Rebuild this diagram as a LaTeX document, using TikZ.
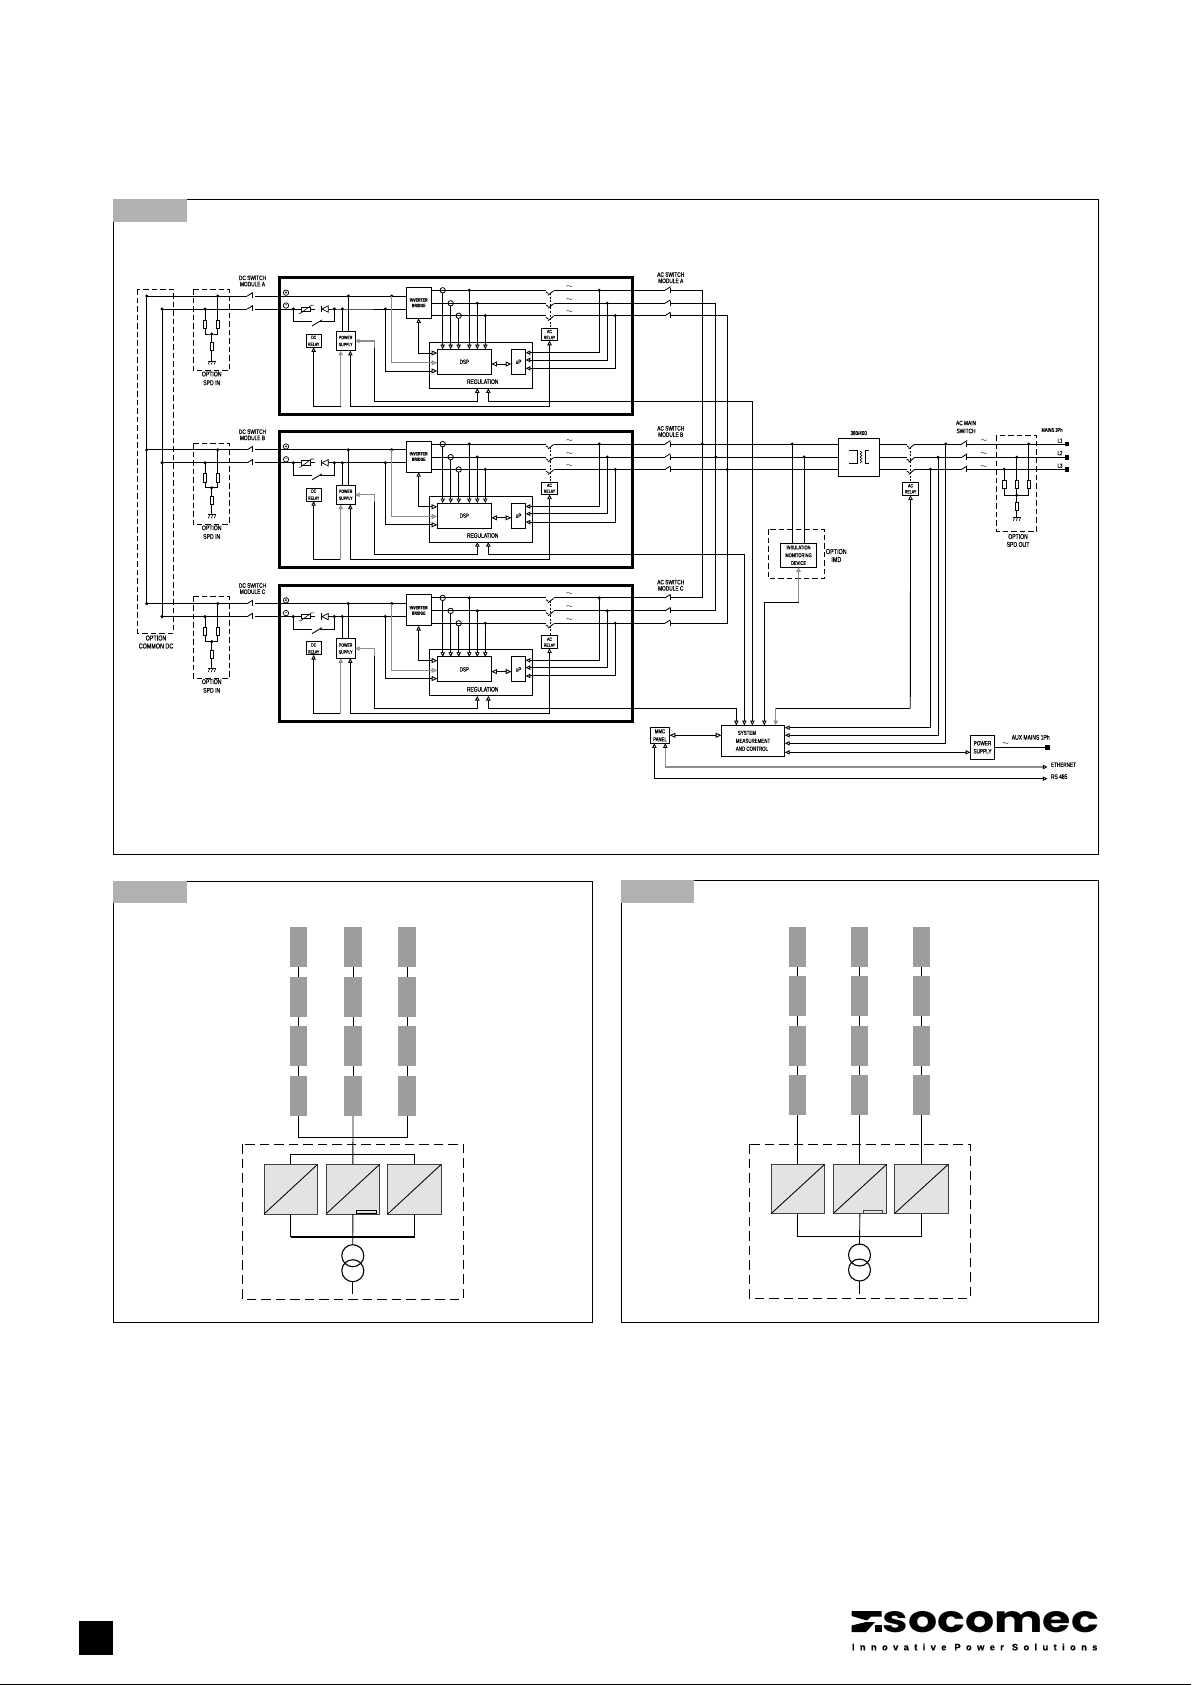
\documentclass[tikz,border=0pt]{standalone}
\usepackage{fontspec}
\usepackage{graphicx}
\setmainfont[FakeStretch=0.75,FakeBold=0.5]{Liberation Sans}
\newfontfamily\logofont{Poppins}
\newfontfamily\tagfont[LetterSpace=58,BoldFeatures={FakeBold=0.5}]{Liberation Sans}
\usetikzlibrary{arrows.meta}
\definecolor{tabgray}{HTML}{B1B1AF}
\definecolor{pvgray}{HTML}{9D9D9D}
\definecolor{convgray}{HTML}{E3E3E1}
\definecolor{softwire}{HTML}{8E8E8E}
\tikzset{
  tri/.tip={Triangle[open,length=4.6pt,width=4.4pt]},
  trib/.tip={Triangle[open,length=5.6pt,width=5pt]},
  wire/.style={line width=.85pt},
  softw/.style={line width=1.1pt,color=softwire},
  boxy/.style={draw,rectangle,line width=.9pt,inner sep=0pt,outer sep=0pt,align=center,font=\fontsize{4.7}{7}\selectfont},
  thickbx/.style={line width=3pt},
  lbl/.style 2 args={inner sep=0pt,align=center,font=\fontsize{#1}{#2}\selectfont},
  sym/.style={inner sep=0pt,font=\fontsize{#1}{#1}\selectfont},
  polar/.style={draw,circle,line width=.7pt,minimum size=5.4pt,inner sep=0pt,outer sep=0pt,font=\fontsize{5.5}{5.5}\selectfont},
  dcoarse/.style={line width=.9pt,dash pattern=on 5.5pt off 3pt},
  dfine/.style={line width=.9pt,dash pattern=on 9.5pt off 5pt},
  resbox/.style={boxy},
  tabbx/.style={draw=none,fill=tabgray},
  frame/.style={draw,rectangle,line width=.9pt,inner sep=0pt,outer sep=0pt},
  panel/.style={draw=none,fill=pvgray},
  conv/.style={draw=black!75,fill=convgray,line width=.9pt},
}
\newcommand\bx[7][]{\node[boxy,#1,minimum width={(#5-#3)*1pt},minimum height={(#6-#4)*1pt}] (#2) at ({(#3+#5)/2},{(#4+#6)/2}) {#7};}
\newcommand\jdot[3]{\coordinate (#1) at (#2,#3); \fill (#1) circle[radius=1.7pt];}
\newcommand\ctc[2]{\draw[wire] ({#1},{#2+1.7}) -- ({#1+2.3},{#2+3.3}); \draw[wire] ({#1+2},{#2+5}) -- ({#1+7.5},{#2+.5});}
\newcommand\swi[2]{\draw[wire] ({#1},{#2}) -- ({#1+5.5},{#2-3.5}); \draw[wire] ({#1+5},{#2-2.5}) -- ({#1+5},{#2+2.5});}
\newcommand\gndsym[2]{\draw[wire] ({#1-3.5},{#2}) -- ({#1+4},{#2}); \foreach \i in {-3,0,3} {\draw[line width=.6pt] ({#1+\i+1},{#2}) -- ({#1+\i-.5},{#2+3.5});}}
\newcommand\modblock[3]{%
\begin{scope}[shift={(0,#1)}]
  \bx[thickbx]{#2-mod}{279.3}{277.5}{632.7}{414}{}
  \node[polar] (#2-plus) at (286,292.7) {+};
  \node[polar] (#2-minus) at (286,305.5) {\raisebox{.4pt}{-}};
  % DC entry
  \jdot{#2-bp}{146.7}{296}
  \jdot{#2-bm}{162}{309}
  \jdot{#2-sp}{217.7}{296}
  \jdot{#2-sm}{205}{309}
  \draw[dcoarse] (193.3,289.3) rectangle (229.3,370.7);
  \bx[resbox]{#2-r1}{203.3}{320}{206.7}{328.3}{}
  \bx[resbox]{#2-r2}{216}{320}{219.4}{328.3}{}
  \bx[resbox]{#2-r3}{210}{342.7}{213.4}{350.7}{}
  \jdot{#2-sj}{211.7}{334}
  \draw[wire] (#2-sm) -- (#2-r1.north);
  \draw[wire] (#2-sp) -- (#2-r2.north);
  \draw[wire] (#2-r1.south) |- (#2-sj) -| (#2-r2.south);
  \draw[wire] (#2-sj) -- (#2-r3.north);
  \coordinate (#2-g) at (211.7,361);
  \draw[wire] (#2-r3.south) -- (#2-g);
  \gndsym{211.7}{361}
  \node[lbl={6.8}{8.7}] (#2-spdl) at (211.7,378.4) {OPTION\\SPD IN};
  \node[lbl={6.4}{6.2}] (#2-dcsw) at (252.5,281) {DC SWITCH\\MODULE #2};
  \draw[wire] (#2-bp) -- (247.3,296);
  \swi{247.3}{296}
  \draw[wire] (#2-bm) -- (247.3,309);
  \swi{247.3}{309}
  % module blocks
  \bx{#2-inv}{406}{287.3}{431.3}{318.3}{\bfseries INVERTER\\[-1.5pt]\bfseries BRIDGE}
  \bx{#2-dcr}{306}{334.3}{321.3}{347.3}{DC\\RELAY}
  \bx{#2-ps}{336.3}{331.3}{355}{350.7}{POWER\\SUPPLY}
  \bx{#2-acr}{541.7}{328.3}{557.3}{340.7}{AC\\[-1pt]RELAY}
  \bx{#2-reg}{429.3}{342.3}{532.3}{388.3}{}
  \bx[font=\fontsize{6}{7}\selectfont]{#2-dsp}{437.3}{349.3}{491.3}{374.3}{DSP}
  \bx[font=\fontsize{6}{7}\selectfont]{#2-up}{511.3}{349.3}{525.7}{374.3}{uP}
  \node[lbl={6.5}{7}] (#2-regl) at (482.7,381.7) {REGULATION};
  % plus and minus rails
  \coordinate (#2-vp) at (255,296);
  \coordinate (#2-vm) at (255,309);
  \draw[wire] (#2-vp) -- (#2-vp -| #2-inv.west);
  \jdot{#2-p1}{348.3}{296}
  \jdot{#2-p2}{391.7}{296}
  \jdot{#2-m1}{293.3}{309}
  \jdot{#2-m2}{334.3}{309}
  \jdot{#2-m3}{342.3}{309}
  \jdot{#2-m4}{385.3}{309}
  \bx[resbox,line width=.7pt]{#2-var}{301.5}{306.9}{310.5}{311.1}{}
  \draw[wire] (#2-vm) -- (#2-var.west);
  \draw[wire] (#2-var.east) -- (315,309);
  \draw[line width=.6pt] (298.5,313.3) -- (300.5,313.3) -- (311.5,305.2) -- (314,305.2);
  \draw[wire] (321.7,305.7) -- (321.7,312.3);
  \draw[line width=.7pt] (322,309) -- (328.3,305.8) -- (328.3,312.2) -- cycle;
  \draw[wire] (328.3,309) -- (#2-m2) -- (#2-m3) -- (#2-m3 -| #2-inv.west);
  \draw[wire] (#2-m1) |- (311.7,321.7);
  \draw[wire] (#2-m2) |- (320,321.7);
  \draw[wire] (312,326) -- (322,320);
  \draw[wire] (#2-m3) -- (#2-m3 |- #2-ps.north);
  \draw[wire] (#2-p1) -- (#2-p1 |- #2-ps.north);
  % outputs
  \coordinate (#2-o1) at (431.3,290.3);
  \coordinate (#2-o2) at (431.3,303.3);
  \coordinate (#2-o3) at (431.3,315.7);
  \coordinate (#2-e1) at (670.3,290.3);
  \coordinate (#2-e2) at (670.3,303.3);
  \coordinate (#2-e3) at (670.3,315.7);
  \draw[wire] (#2-o1) -- (546,290.3);
  \draw[wire] (#2-o2) -- (546,303.3);
  \draw[wire] (#2-o3) -- (546,315.7);
  \ctc{546}{290.3}\ctc{546}{303.3}\ctc{546}{315.7}
  \draw[wire] (553.5,290.3) -- (664.8,290.3);
  \draw[wire] (553.5,303.3) -- (664.8,303.3);
  \draw[wire] (553.5,315.7) -- (664.8,315.7);
  \swi{665}{290.3}\swi{665}{303.3}\swi{665}{315.7}
  \draw[line width=.7pt,dash pattern=on 2pt off 1.6pt] (550.7,293) -- (550.7,328.3);
  \node[sym=8] (#2-t1) at (569.3,286.7) {$\sim$};
  \node[sym=8] (#2-t2) at (569.3,299.7) {$\sim$};
  \node[sym=8] (#2-t3) at (569.3,312.3) {$\sim$};
  \node[lbl={6.4}{6.2}] (#2-acsw) at (670.7,277.7) {AC SWITCH\\MODULE #2};
  % current sensors
  \foreach \n/\xx/\yy in {1/442.7/290.3,2/450.7/303.3,3/458.7/315.7} {
    \node[draw,circle,line width=.8pt,minimum size=5.4pt,inner sep=0pt,outer sep=0pt] (#2-ct\n) at (\xx,\yy) {};
    \draw[wire,-{tri}] (#2-ct\n.south) -- (#2-ct\n.south |- #2-dsp.north);
  }
  \jdot{#2-a1}{469.3}{290.3}
  \jdot{#2-a2}{477.3}{303.3}
  \jdot{#2-a3}{485.3}{315.7}
  \draw[wire,-{tri}] (#2-a1) -- (#2-a1 |- #2-dsp.north);
  \draw[wire,-{tri}] (#2-a2) -- (#2-a2 |- #2-dsp.north);
  \draw[wire,-{tri}] (#2-a3) -- (#2-a3 |- #2-dsp.north);
  % DSP inputs
  \coordinate (#2-d1) at (437.3,353);
  \coordinate (#2-d2) at (437.3,362.7);
  \coordinate (#2-d3) at (437.3,371);
  \draw[wire,{tri}-{trib}] (#2-inv.south) |- (#2-d1);
  \draw[softw,-{trib}] (#2-p2) |- (#2-d2);
  \draw[wire,-{trib}] (#2-m4) |- (#2-d3);
  % DSP - uP exchange
  \coordinate (#2-x1) at (491.3,364);
  \coordinate (#2-x2) at (511.3,364);
  \draw[wire,{trib}-{trib}] (#2-x1) -- (#2-x2);
  % uP measurements
  \jdot{#2-c1}{599.3}{290.3}
  \jdot{#2-c2}{607.3}{303.3}
  \jdot{#2-c3}{615.3}{315.7}
  \coordinate (#2-u1) at (525.7,352.7);
  \coordinate (#2-u2) at (525.7,360);
  \coordinate (#2-u3) at (525.7,368.3);
  \draw[wire,-{tri}] (#2-c1) |- (#2-u1);
  \draw[wire,-{tri}] (#2-c2) |- (#2-u2);
  \draw[wire,-{tri}] (#2-c3) |- (#2-u3);
  % control wires
  \coordinate (#2-k1) at (340.7,406);
  \coordinate (#2-k2) at (#2-acr.south |- #2-k1);
  \coordinate (#2-ps1) at (340.7,350.7);
  \coordinate (#2-ps2) at (350.3,350.7);
  \draw[wire,{tri}-] (#2-dcr.south) |- (#2-k1);
  \draw[softw,-{tri}] (#2-k1) -- (#2-ps1);
  \draw[wire,{tri}-{tri}] (#2-ps2) |- (#2-k2) -- (#2-acr.south);
  \coordinate (#2-rg1) at (477.3,388.3);
  \coordinate (#2-rg2) at (488.3,388.3);
  \coordinate (#2-h1) at (374.7,341);
  \coordinate (#2-h2) at (374.7,348);
  \draw[softw,{tri}-] (#2-ps.east) -- (#2-h1) -- (#2-h2);
  \draw[wire,-{tri}] (#2-h2) |- (477.3,401) -- (#2-rg1);
  \coordinate (#2-bend) at (#3,401);
  \draw[wire,{tri}-{tri}] (#2-rg2) |- (#2-bend) -- (#2-bend |- smc.north);
\end{scope}}
\begin{document}
\begin{tikzpicture}[x=1pt,y=-1pt]
\useasboundingbox (0,0) rectangle (1191,1685);
\fill[white] (0,0) rectangle (1191,1685);
% frames
\bx[frame]{fr1}{113.5}{199}{1098.7}{854.3}{}
\bx[frame]{fr2}{113.3}{881}{592.3}{1322.7}{}
\bx[frame]{fr3}{621}{880.3}{1098.7}{1322.3}{}
\fill[tabgray] (113,199) rectangle (187,222);
\fill[tabgray] (113,881) rectangle (187,902.7);
\fill[tabgray] (621,880.3) rectangle (693.7,902.7);
% central system blocks
\bx[font=\fontsize{5.9}{7.9}\selectfont,align=left]{smc}{721.3}{725.3}{784.7}{756.3}{\hspace{2pt}SYSTEM\\MEASUREMENT\\AND CONTROL}
\bx[font=\fontsize{5.7}{8}\selectfont]{mmc}{650.3}{727.3}{669.7}{743.3}{MMC\\PANEL}
\bx[font=\fontsize{6.2}{8}\selectfont]{aps}{970.3}{735.3}{994.7}{759.3}{POWER\\SUPPLY}
\bx{xf}{838.3}{438.3}{879.3}{476.3}{}
\bx[font=\fontsize{5.4}{7.8}\selectfont]{imd}{780.3}{543.3}{816.7}{567.3}{INSULATION\\MONITORING\\DEVICE}
\bx{macr}{902.3}{482.3}{918.7}{495.3}{AC\\[-1pt]RELAY}
% power modules
\modblock{0}{A}{752.3}
\modblock{153.8}{B}{744.3}
\modblock{307.6}{C}{736.3}
% common DC
\draw[dcoarse] (137.3,289.3) rectangle (173.3,633);
\node[lbl={7.2}{8}] (cdc) at (156,642) {OPTION\\COMMON DC};
\draw[wire] (A-bp) -- (C-bp);
\draw[wire] (A-bm) -- (C-bm);
% AC bus
\coordinate (bus1) at (702.3,0);
\coordinate (bus2) at (715.7,0);
\coordinate (bus3) at (727.3,0);
\draw[wire] (A-e1) -- (A-e1 -| bus1) -- (C-e1 -| bus1) -- (C-e1);
\draw[wire] (A-e2) -- (A-e2 -| bus2) -- (C-e2 -| bus2) -- (C-e2);
\draw[wire] (A-e3) -- (A-e3 -| bus3) -- (C-e3 -| bus3) -- (C-e3);
\draw[wire] (B-e1) -- (B-e1 -| xf.west);
\draw[wire] (B-e2) -- (B-e2 -| xf.west);
\draw[wire] (B-e3) -- (B-e3 -| xf.west);
\fill (B-e1 -| bus1) circle[radius=1.7pt];
\fill (B-e2 -| bus2) circle[radius=1.7pt];
\fill (B-e3 -| bus3) circle[radius=1.7pt];
% IMD
\draw[dcoarse] (768.3,529.3) rectangle (824.7,578.7);
\jdot{im1}{792.3}{444.1}
\jdot{im2}{804.3}{457.1}
\draw[wire] (im1) -- (im1 |- imd.north);
\draw[wire] (im2) -- (im2 |- imd.north);
\node[lbl={7.2}{8}] (imdl) at (836.3,555.5) {OPTION\\IMD};
\coordinate (imb) at (imd.south |- 0,602.3);
\coordinate (smi) at (764.3,602.3);
\draw[softw,{tri}-] (imd.south) -- (imb);
\draw[wire] (imb) -- (smi);
\draw[wire,-{tri}] (smi) -- (smi |- smc.north);
% transformer
\node[lbl={6}{6}] (xfl) at (858.7,433) {380/400};
\draw[wire] (849.3,450.7) -- (857.3,450.7) -- (857.3,463.3) -- (849.3,463.3);
\draw[wire] (868.7,450.7) -- (865,450.7) -- (865,463.3) -- (868.7,463.3);
\foreach \i in {0,1,2,3} {\draw[line width=.6pt] (860,{451+3*\i}) .. controls (862.5,{451+3*\i}) and (862.5,{454+3*\i}) .. (860,{454+3*\i});}
% mains side
\coordinate (q1) at (879.3,444);
\coordinate (q2) at (879.3,457.3);
\coordinate (q3) at (879.3,469.3);
\coordinate (r1) at (914,444);
\coordinate (r2) at (914,457.3);
\coordinate (r3) at (914,469.3);
\draw[wire] (q1) -- (906.7,444);
\draw[wire] (q2) -- (906.7,457.3);
\draw[wire] (q3) -- (906.7,469.3);
\ctc{906.7}{444}\ctc{906.7}{457.3}\ctc{906.7}{469.3}
\draw[line width=.7pt,dash pattern=on 2pt off 1.6pt] (910.3,447) -- (910.3,482.3);
\draw[wire] (r1) -- (961.7,444);
\draw[wire] (r2) -- (961.7,457.3);
\draw[wire] (r3) -- (961.7,469.3);
\swi{961.7}{444}\swi{961.7}{457.3}\swi{961.7}{469.3}
\bx[draw=black,fill=black]{L1}{1065.2}{442.2}{1068.8}{445.8}{}
\bx[draw=black,fill=black]{L2}{1065.2}{455.5}{1068.8}{459.1}{}
\bx[draw=black,fill=black]{L3}{1065.2}{467.5}{1068.8}{471.1}{}
\draw[wire] (966.7,444) -- (L1.west);
\draw[wire] (966.7,457.3) -- (L2.west);
\draw[wire] (966.7,469.3) -- (L3.west);
\node[sym=8] (m1) at (984,441) {$\sim$};
\node[sym=8] (m2) at (984,453.7) {$\sim$};
\node[sym=8] (m3) at (984,466.7) {$\sim$};
\node[lbl={6.4}{8}] (amsw) at (966,427) {AC MAIN\\SWITCH};
\node[lbl={5.4}{6}] (mainsl) at (1052,430) {MAINS 3Ph};
\node[lbl={5.8}{6}] (l1t) at (1060,440.7) {L1};
\node[lbl={5.8}{6}] (l2t) at (1060,453) {L2};
\node[lbl={5.8}{6}] (l3t) at (1060,465.7) {L3};
% SPD out
\draw[dcoarse] (996.7,435.3) rectangle (1036.7,531.3);
\jdot{so1}{1028.7}{444}
\jdot{so2}{1016.7}{457.3}
\jdot{so3}{1004.3}{469.3}
\bx[resbox]{sr1}{1027}{480}{1030.4}{488.7}{}
\bx[resbox]{sr2}{1015}{480}{1018.4}{488.7}{}
\bx[resbox]{sr3}{1002.6}{480}{1006}{488.7}{}
\bx[resbox]{sr4}{1015}{502.7}{1018.4}{510.7}{}
\jdot{sj}{1016.7}{495.3}
\draw[wire] (so1) -- (sr1.north);
\draw[wire] (so2) -- (sr2.north);
\draw[wire] (so3) -- (sr3.north);
\draw[wire] (sr3.south) |- (sj) -| (sr1.south);
\draw[wire] (sr2.south) -- (sj) -- (sr4.north);
\coordinate (sg) at (1016.7,517.3);
\draw[wire] (sr4.south) -- (sg);
\gndsym{1016.7}{517.3}
\node[lbl={6.8}{8}] (spdo) at (1018,540.5) {OPTION\\SPD OUT};
% SMC right side
\jdot{s1}{945.7}{444}
\jdot{s2}{938}{457.3}
\jdot{s3}{930.5}{469.3}
\coordinate (v1) at (785,727.7);
\coordinate (v2) at (785,735.3);
\coordinate (v3) at (785,743.3);
\draw[wire,-{tri}] (s3) |- (v1);
\draw[wire,-{tri}] (s2) |- (v2);
\draw[wire,-{tri}] (s1) |- (v3);
\coordinate (v4) at (785,752.3);
\coordinate (v5) at (970.3,752.3);
\draw[wire,{tri}-{tri}] (v4) -- (v5);
\coordinate (ma) at (910.3,708.3);
\coordinate (mb) at (775.7,708.3);
\draw[wire,{tri}-] (macr.south) -- (ma);
\draw[wire] (ma) -- (mb);
\draw[softw,-{tri}] (mb) -- (mb |- smc.north);
% MMC
\coordinate (mm1) at (669.7,735.3);
\coordinate (mm2) at (721.3,735.3);
\draw[wire,{trib}-{trib}] (mm1) -- (mm2);
\coordinate (eth) at (1047.5,767);
\coordinate (rs) at (1047.5,778.7);
\coordinate (mmb1) at (654.3,743.3);
\coordinate (mmb2) at (665.3,743.3);
\draw[wire,{tri}-{tri}] (mmb1) |- (rs);
\draw[line width=1.3pt,softwire,{tri[black,line width=.85pt]}-{tri[black,line width=.85pt]}] (mmb2) |- (eth);
\node[lbl={6.2}{7},anchor=west] (etht) at (1050.7,764.7) {ETHERNET};
\node[lbl={6.6}{7},anchor=west] (rst) at (1050.7,776.7) {RS 485};
% aux supply
\bx[draw=black,fill=black]{auxt}{1045.5}{745.3}{1049.7}{749.3}{}
\draw[wire] (aps.east |- auxt) -- (auxt);
\node[sym=8] (auxs) at (1005.7,744.3) {$\sim$};
\node[lbl={6.7}{6}] (auxl) at (1030.7,737.3) {AUX MAINS 1Ph};
% ---- lower left
\foreach \c/\a/\b in {1/290/307,2/344/362,3/398/416}{
  \foreach \r/\t/\u in {1/927/967,2/977/1017,3/1026/1066,4/1076/1116}{
    \bx[panel]{L\c\r}{\a}{\t}{\b}{\u}{}
  }
  \draw[wire] (L\c1.south) -- (L\c2.north);
  \draw[wire] (L\c2.south) -- (L\c3.north);
  \draw[wire] (L\c3.south) -- (L\c4.north);
}
\bx[conv]{LC1}{264}{1164.3}{317.7}{1214}{}
\bx[conv]{LC2}{326}{1164.3}{379.7}{1214}{}
\bx[conv]{LC3}{387.7}{1164.3}{441.3}{1214}{}
\foreach \n in {1,2,3} {\draw[wire] (LC\n.south west) -- (LC\n.north east);}
\bx[conv,draw=black]{Lrs}{356.3}{1210.3}{376}{1213.7}{}
\draw[dfine] (242.3,1144.3) rectangle (463.3,1299.3);
\coordinate (ljn) at (352.8,1137.3);
\draw[wire] (L14.south) -- (L14.south |- ljn) -- (L34.south |- ljn) -- (L34.south);
\draw[wire] (L24.south) -- (LC2.north);
\coordinate (ldi) at (352.8,1154.3);
\draw[wire] (LC1.north) -- (LC1.north |- ldi) -- (LC3.north |- ldi) -- (LC3.north);
\coordinate (llo) at (352.8,1236.7);
\draw[wire] (LC1.south) -- (LC1.south |- llo);
\draw[wire] (LC3.south) -- (LC3.south |- llo);
\draw[line width=1.7pt] (LC1.south |- llo) -- (LC3.south |- llo);
\node[draw,circle,line width=1.1pt,minimum size=22pt,inner sep=0pt,outer sep=0pt] (LT1) at (352.8,1255.7) {};
\node[draw,circle,line width=1.1pt,minimum size=22pt,inner sep=0pt,outer sep=0pt] (LT2) at (352.8,1270.7) {};
\draw[wire] (LC2.south) -- (LT1.north);
\coordinate (lin) at (352.8,1294);
\draw[wire] (LT2.south) -- (lin);
% ---- lower right
\foreach \c/\a/\b in {1/789/806,2/851/868,3/913/930}{
  \foreach \r/\t/\u in {1/927/967,2/976/1016,3/1026/1066,4/1075/1115}{
    \bx[panel]{R\c\r}{\a}{\t}{\b}{\u}{}
  }
  \draw[wire] (R\c1.south) -- (R\c2.north);
  \draw[wire] (R\c2.south) -- (R\c3.north);
  \draw[wire] (R\c3.south) -- (R\c4.north);
}
\bx[conv]{RC1}{771}{1164.3}{824.7}{1213.7}{}
\bx[conv]{RC2}{833}{1164.3}{886.7}{1213.7}{}
\bx[conv]{RC3}{894.3}{1164.3}{948.3}{1213.7}{}
\foreach \n in {1,2,3} {\draw[wire] (RC\n.south west) -- (RC\n.north east);}
\bx[conv]{Rrs}{863.3}{1210.3}{882.7}{1213.4}{}
\draw[dfine] (749.3,1144.3) rectangle (970.3,1298.3);
\draw[wire] (R14.south) -- (R14.south -| RC1.north) -- (RC1.north);
\draw[wire] (R24.south) -- (R24.south -| RC2.north) -- (RC2.north);
\draw[wire] (R34.south) -- (R34.south -| RC3.north) -- (RC3.north);
\coordinate (rlo) at (859.8,1236.3);
\draw[wire] (RC1.south) -- (RC1.south |- rlo) -- (RC3.south |- rlo) -- (RC3.south);
\node[draw,circle,line width=1.1pt,minimum size=22pt,inner sep=0pt,outer sep=0pt] (RT1) at (859.5,1255) {};
\node[draw,circle,line width=1.1pt,minimum size=22pt,inner sep=0pt,outer sep=0pt] (RT2) at (859.5,1270) {};
\draw[wire] (RC2.south) -- (RT1.north);
\coordinate (rin) at (859.5,1294);
\draw[wire] (RT2.south) -- (rin);
% ---- footer
\fill (79,1621) rectangle (112.7,1655);
\draw[line width=1pt] (0,1684.3) -- (1191,1684.3);
\fill (851.7,1611) -- (881.5,1611) -- (881.5,1616.5) -- (871,1616.5) -- (867,1620.5) -- (851.7,1616) -- cycle;
\fill (851.7,1625.5) -- (866,1622) -- (875,1622) -- (866,1632) -- (851.7,1632) -- cycle;
\fill (874.5,1625) rectangle (881.5,1632);
\node[inner sep=0pt,anchor=west] (logow) at (882.5,1622) {\resizebox{216pt}{21pt}{\logofont\bfseries socomec}};
\node[inner sep=0pt,anchor=west] (logot) at (851.7,1647) {\fontsize{9.3}{10}\tagfont\bfseries Innovative Power Solutions};
\end{tikzpicture}
\end{document}
